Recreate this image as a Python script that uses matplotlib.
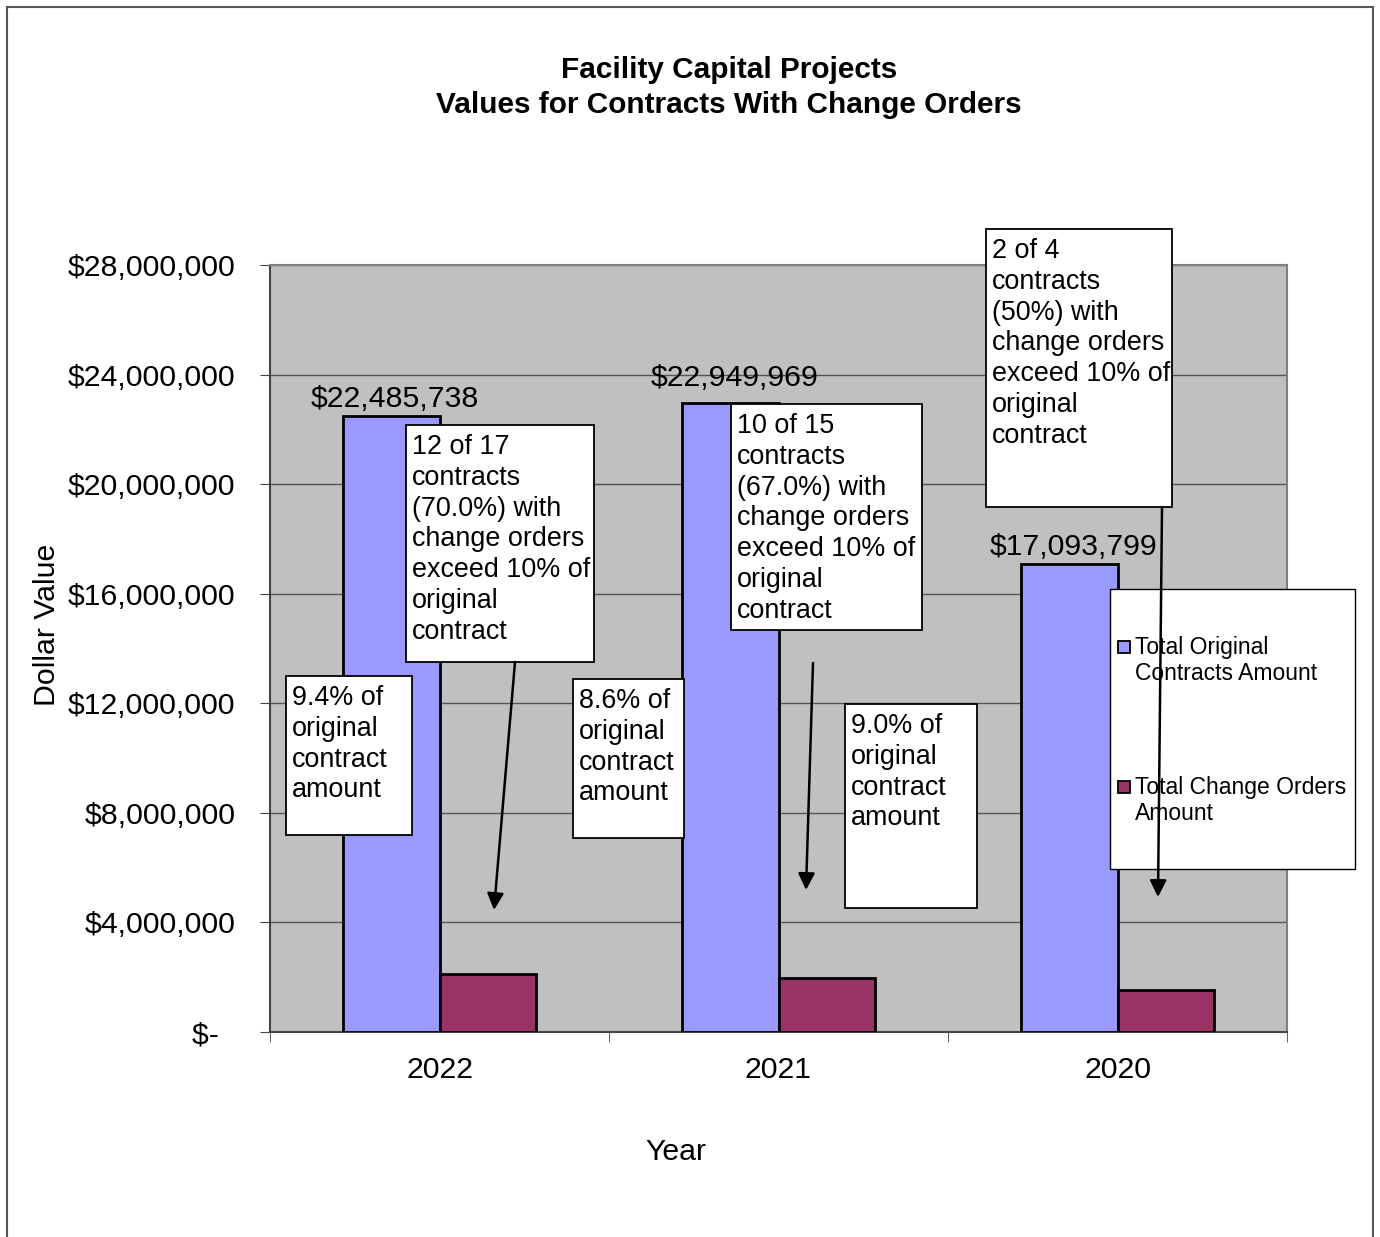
import matplotlib.pyplot as plt
from matplotlib.patches import Rectangle, FancyArrowPatch
from matplotlib.ticker import FuncFormatter

years = ["2022", "2021", "2020"]
original_amounts = [22485738, 22949969, 17093799]
change_amounts = [2113659, 1973697, 1538442]
series_names = ["Total Original\nContracts Amount", "Total Change Orders\nAmount"]
note_texts = [
    "9.4% of\noriginal\ncontract\namount",
    "12 of 17\ncontracts\n(70.0%) with\nchange orders\nexceed 10% of\noriginal\ncontract",
    "8.6% of\noriginal\ncontract\namount",
    "10 of 15\ncontracts\n(67.0%) with\nchange orders\nexceed 10% of\noriginal\ncontract",
    "9.0% of\noriginal\ncontract\namount",
    "2 of 4\ncontracts\n(50%) with\nchange orders\nexceed 10% of\noriginal\ncontract",
]

W, H = 1380, 1237
BLUE = "#9999FF"
MAROON = "#993366"
FS = 21.8

plt.rcParams['font.family'] = ['Liberation Sans', 'DejaVu Sans']

fig = plt.figure(figsize=(W / 100, H / 100), dpi=100)


def fx(x):
    return x / W


def fy(y):
    return 1 - y / H


ax = fig.add_axes([fx(270), fy(1032), fx(1287) - fx(270), fy(265) - fy(1032)])
ax.set_facecolor("#C0C0C0")

x = range(len(years))
bw = 0.286
ax.bar([i - bw / 2 for i in x], original_amounts, bw, color=BLUE,
       edgecolor="black", linewidth=2, zorder=3)
ax.bar([i + bw / 2 for i in x], change_amounts, bw, color=MAROON,
       edgecolor="black", linewidth=2, zorder=3)

# value labels (the middle one sits a bit higher in the original)
label_lift = [2, 8.5, 2]
for i, v in enumerate(original_amounts):
    ax.annotate("${:,}".format(v), (i - bw / 2, v), xytext=(3, label_lift[i]),
                textcoords="offset points", ha="center", va="bottom",
                fontsize=FS, zorder=4)

ax.set_xlim(-0.5, 2.5)
ax.set_ylim(0, 28000000)
ax.set_yticks(range(0, 28000001, 4000000))


def money(v, pos):
    if v == 0:
        return "$-  "
    return "${:,.0f}".format(v)


ax.yaxis.set_major_formatter(FuncFormatter(money))
ax.grid(axis="y", color="#555555", linewidth=1, zorder=1)
ax.set_axisbelow(True)

ax.set_xticks(list(x))
ax.set_xticklabels(years)
ax.set_xticks([-0.5, 0.5, 1.5, 2.5], minor=True)
ax.tick_params(axis="x", which="major", length=0, pad=17, labelsize=FS)
ax.tick_params(axis="x", which="minor", length=7, color="#444444")
ax.tick_params(axis="y", length=7, pad=18, labelsize=FS, color="#444444")

for s in ax.spines.values():
    s.set_color("#808080")
    s.set_linewidth(1.5)
ax.spines["bottom"].set_color("#444444")
ax.spines["left"].set_color("#444444")

fig.text(fx(676), fy(1152), "Year", ha="center", va="center", fontsize=FS)
fig.text(fx(47), fy(625), "Dollar Value", ha="center", va="center",
         rotation=90, fontsize=FS)

fig.text(fx(729), fy(70), "Facility Capital Projects", ha="center", va="center",
         fontsize=21.4, fontweight="bold")
fig.text(fx(729), fy(105), "Values for Contracts With Change Orders", ha="center",
         va="center", fontsize=21.4, fontweight="bold")

# note boxes (left, top, right, bottom in pixels)
boxes = [
    (286, 676, 412, 835),
    (406, 425, 594, 662),
    (573, 679, 684, 838),
    (731, 404, 922, 630),
    (845, 704, 977, 908),
    (986, 229, 1172, 507),
]
for (l, t, r, b), txt in zip(boxes, note_texts):
    fig.add_artist(Rectangle((fx(l), fy(b)), fx(r) - fx(l), fy(t) - fy(b),
                             transform=fig.transFigure, facecolor="white",
                             edgecolor="black", linewidth=1.3, zorder=5))
    fig.text(fx(l + 6), fy(t + 9), txt, ha="left", va="top", fontsize=19.4,
             linespacing=1.24, zorder=6)

# legend
fig.add_artist(Rectangle((fx(1110), fy(869)), fx(1355) - fx(1110), fy(589) - fy(869),
                         transform=fig.transFigure, facecolor="white",
                         edgecolor="black", linewidth=1, zorder=5))
for name, col, yy in zip(series_names, [BLUE, MAROON], [647, 787]):
    fig.add_artist(Rectangle((fx(1118), fy(yy + 6)), fx(12), 12 / H,
                             transform=fig.transFigure, facecolor=col,
                             edgecolor="black", linewidth=1.3, zorder=6))
    fig.text(fx(1135), fy(yy - 11), name, ha="left", va="top", fontsize=16.5,
             linespacing=1.15, zorder=6)

# arrows
arrows = [((515, 662), (494, 910)), ((813, 663), (806, 890)), ((1162, 507), (1158, 897))]
for (x0, y0), (x1, y1) in arrows:
    fig.add_artist(FancyArrowPatch((fx(x0), fy(y0)), (fx(x1), fy(y1)),
                                   transform=fig.transFigure, arrowstyle="-|>",
                                   mutation_scale=25, color="black",
                                   linewidth=1.8, zorder=7, shrinkA=0, shrinkB=0))

# outer frame
fig.add_artist(Rectangle((fx(7), fy(1240)), fx(1373) - fx(7), fy(7) - fy(1240),
                         transform=fig.transFigure, facecolor="none",
                         edgecolor="#555555", linewidth=1.5, zorder=0))

plt.savefig("out.png", dpi=100)
